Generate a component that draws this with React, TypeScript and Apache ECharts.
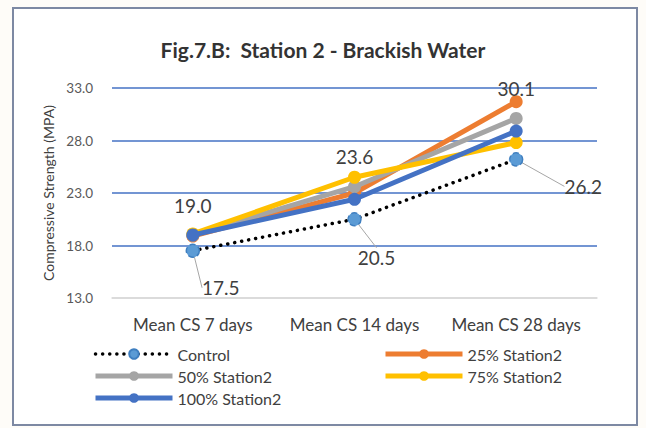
import React, { useEffect, useRef } from "react";
import * as echarts from "echarts";

const categories = ["Mean CS 7 days", "Mean CS 14 days", "Mean CS 28 days"];
const control = [17.5, 20.5, 26.2];
const pct25 = [18.9, 23.0, 31.7];
const pct50 = [19.0, 23.6, 30.1];
const pct75 = [19.1, 24.5, 27.8];
const pct100 = [19.0, 22.4, 28.9];
const yTicks = { min: 13, max: 33, interval: 5 };

// offsets of the Control value labels from their markers
const controlLabelShift = [
  { dx: 28, dy: 37 },
  { dx: 22, dy: 38 },
  { dx: 67, dy: 27 },
];

const FONT = "Lato, 'Open Sans', sans-serif";
const TEXT = "#404040";

export default function App() {
  const ref = useRef<HTMLDivElement>(null);

  useEffect(() => {
    if (!ref.current) return;
    const chart = echarts.init(ref.current, undefined, { renderer: "svg" });

    const solid = (name: string, data: number[], color: string, z: number) => ({
      name,
      type: "line",
      data,
      z,
      symbol: "circle",
      symbolSize: 13,
      lineStyle: { color, width: 5 },
      itemStyle: { color },
      emphasis: { disabled: true },
    });

    const legendBase = {
      orient: "vertical",
      top: 341,
      itemWidth: 77,
      itemHeight: 12,
      itemGap: 6,
      textStyle: { color: TEXT, fontSize: 16, fontFamily: FONT },
      lineStyle: { width: 5 },
    };

    chart.setOption({
      animation: false,
      backgroundColor: "#fefcf8",
      textStyle: { fontFamily: FONT },
      title: {
        text: "Fig.7.B:  Station 2 - Brackish Water",
        left: "center",
        top: 34,
        textStyle: { fontSize: 21, fontWeight: "bold", color: "#333", fontFamily: FONT },
      },
      graphic: [
        {
          type: "rect",
          z: -10,
          shape: { x: 13, y: 8, width: 624, height: 417 },
          style: { fill: "#ffffff", stroke: "#7d89a3", lineWidth: 2 },
        },
      ],
      grid: { left: 112, right: 49, top: 88, bottom: 130 },
      xAxis: {
        type: "category",
        data: categories,
        boundaryGap: true,
        axisTick: { show: false },
        axisLine: { show: true, lineStyle: { color: "#d9d9d9", width: 1.5 } },
        axisLabel: {
          color: TEXT,
          fontSize: 17,
          margin: 18,
          interval: 0,
          hideOverlap: false,
          fontFamily: FONT,
        },
      },
      yAxis: {
        type: "value",
        min: yTicks.min,
        max: yTicks.max,
        interval: yTicks.interval,
        name: "Compressive Strength (MPA)",
        nameLocation: "middle",
        nameGap: 57,
        nameTextStyle: { color: TEXT, fontSize: 14, fontFamily: FONT },
        axisLine: { show: false },
        axisTick: { show: false },
        axisLabel: {
          color: "#595959",
          fontSize: 13.5,
          margin: 19,
          fontFamily: FONT,
          formatter: (v: number) => v.toFixed(1),
        },
        splitLine: {
          lineStyle: {
            color: ["#d9d9d9", "#4472C4", "#4472C4", "#4472C4", "#4472C4"],
            width: 1.5,
          },
        },
      },
      legend: [
        {
          ...legendBase,
          left: 88,
          data: [
            { name: "Control", lineStyle: { width: 3.5 } },
            "50% Station2",
            "100% Station2",
          ],
        },
        {
          ...legendBase,
          left: 378,
          data: ["25% Station2", "75% Station2"],
        },
      ],
      series: [
        {
          name: "Control",
          type: "line",
          data: control,
          z: 2,
          symbol: "circle",
          symbolSize: 13,
          lineStyle: { color: "#000000", width: 3.5, type: [0.1, 7], cap: "round" },
          itemStyle: {
            color: "#5B9BD5",
            borderColor: "#3f7fc0",
            borderWidth: 1.5,
            borderType: "dashed",
          },
          label: {
            show: true,
            position: "inside",
            color: TEXT,
            fontSize: 19,
            fontFamily: FONT,
            formatter: (p: any) => Number(p.value).toFixed(1),
          },
          labelLine: { show: true, lineStyle: { color: "#a6a6a6", width: 1 } },
          labelLayout: (p: any) => controlLabelShift[p.dataIndex] || {},
          emphasis: { disabled: true },
        },
        solid("25% Station2", pct25, "#ED7D31", 3),
        {
          ...solid("50% Station2", pct50, "#A5A5A5", 4),
          label: {
            show: true,
            position: "top",
            distance: 14,
            color: TEXT,
            fontSize: 19,
            fontFamily: FONT,
            formatter: (p: any) => Number(p.value).toFixed(1),
          },
        },
        solid("75% Station2", pct75, "#FFC000", 5),
        solid("100% Station2", pct100, "#4472C4", 6),
      ],
    });

    return () => chart.dispose();
  }, []);

  return (
    <div
      ref={ref}
      style={{ position: "fixed", left: 0, top: 0, width: 646, height: 428 }}
    />
  );
}
